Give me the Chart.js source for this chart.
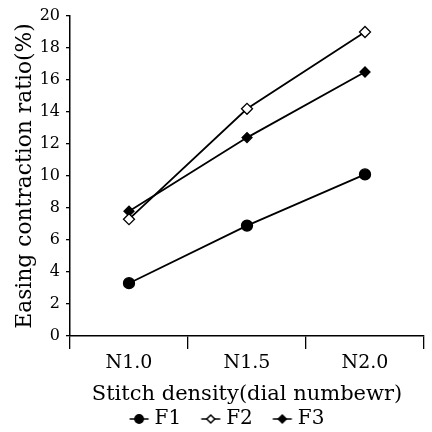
<!DOCTYPE html>
<html>
<head>
<meta charset="utf-8">
<script src="https://cdn.jsdelivr.net/npm/chart.js@4.4.1/dist/chart.umd.min.js"></script>
<style>
  html, body { margin: 0; padding: 0; background: #fff; }
  #wrap { width: 432px; height: 432px; }
</style>
</head>
<body>
<div id="wrap"><canvas id="chart" width="432" height="432"></canvas></div>
<script>
// datos
const categories = ['N1.0', 'N1.5', 'N2.0'];
const seriesNames = ['F1', 'F2', 'F3'];
const f1Values = [3.3, 6.9, 10.1];
const f2Values = [7.3, 14.2, 19.0];
const f3Values = [7.8, 12.4, 16.5];
const yTicks = [0, 2, 4, 6, 8, 10, 12, 14, 16, 18, 20];

const serif = '"DejaVu Serif", "Liberation Serif", serif';

// Estilos de los marcadores
const markerStyles = [
	{ pointStyle: 'circle', radius: 5.5, fill: '#000' },
	{ pointStyle: 'rectRot', radius: 5.5, fill: '#fff' },
	{ pointStyle: 'rectRot', radius: 5, fill: '#000' }
];

// Imagen de leyenda: línea + marcador (más ancha que la caja, centrada)
function legendImage(style) {
	const c = document.createElement('canvas');
	c.width = 50;
	c.height = 12;
	const g = c.getContext('2d');
	g.strokeStyle = '#000';
	g.lineWidth = 1.5;
	g.beginPath();
	g.moveTo(26.5, 6);
	g.lineTo(45.5, 6);
	g.stroke();
	g.fillStyle = style.fill;
	g.beginPath();
	if (style.pointStyle === 'circle') {
		g.arc(36, 6, 4.2, 0, Math.PI * 2);
	} else {
		g.moveTo(36, 2);
		g.lineTo(40, 6);
		g.lineTo(36, 10);
		g.lineTo(32, 6);
		g.closePath();
	}
	g.fill();
	g.stroke();
	return c;
}

const allValues = [f1Values, f2Values, f3Values];
const datasets = seriesNames.map((name, i) => ({
	label: name,
	data: allValues[i],
	borderColor: '#000',
	borderWidth: 1.8,
	backgroundColor: markerStyles[i].fill,
	pointStyle: markerStyles[i].pointStyle,
	pointRadius: markerStyles[i].radius,
	pointBorderColor: '#000',
	pointBorderWidth: 1.3,
	pointBackgroundColor: markerStyles[i].fill,
	tension: 0,
	fill: false
}));

const ctx = document.getElementById('chart').getContext('2d');
new Chart(ctx, {
	type: 'line',
	data: {
		labels: categories,
		datasets: datasets
	},
	options: {
		responsive: false,
		animation: false,
		layout: {
			padding: { top: 16, right: 8, left: 12, bottom: -7 }
		},
		plugins: {
			tooltip: { enabled: false },
			legend: {
				position: 'bottom',
				labels: {
					color: '#000',
					font: { family: serif, size: 20, lineHeight: 1 },
					usePointStyle: true,
					pointStyleWidth: 33,
					padding: 2,
					generateLabels: function(chart) {
						const items = Chart.defaults.plugins.legend.labels.generateLabels(chart);
						items.forEach((item, i) => {
							item.pointStyle = legendImage(markerStyles[i]);
						});
						return items;
					}
				}
			}
		},
		scales: {
			x: {
				offset: true,
				afterFit: function(scale) {
					scale.height = 71;
				},
				grid: {
					offset: true,
					drawOnChartArea: false,
					tickLength: 13,
					color: '#000',
					lineWidth: 1.3
				},
				border: { color: '#000', width: 1.5 },
				ticks: {
					color: '#000',
					font: { family: serif, size: 19 },
					padding: 3
				},
				title: {
					display: true,
					text: 'Stitch density(dial numbewr)',
					color: '#000',
					font: { family: serif, size: 21, lineHeight: 1 },
					padding: { top: 0, bottom: 2 }
				}
			},
			y: {
				min: 0,
				max: 20,
				afterBuildTicks: function(scale) {
					scale.ticks = yTicks.map(v => ({ value: v }));
				},
				afterFit: function(scale) {
					scale.width = 58;
				},
				grid: {
					drawOnChartArea: false,
					tickLength: 4,
					color: '#000',
					lineWidth: 1.3
				},
				border: { color: '#000', width: 1.5 },
				ticks: {
					color: '#000',
					font: { family: serif, size: 16 },
					padding: 6
				},
				title: {
					display: true,
					text: 'Easing contraction ratio(%)',
					color: '#000',
					font: { family: serif, size: 21.8 },
					padding: { top: 0, bottom: 0 }
				}
			}
		}
	}
});
</script>
</body>
</html>
